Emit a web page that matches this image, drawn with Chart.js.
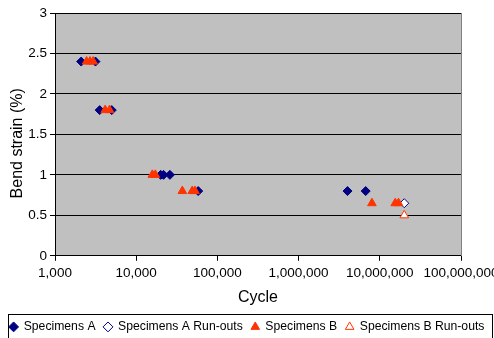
<!DOCTYPE html>
<html>
<head>
<meta charset="utf-8">
<title>Bend strain vs cycle</title>
<script src="https://cdn.jsdelivr.net/npm/chart.js@4/dist/chart.umd.min.js"></script>
<style>
  html, body { margin: 0; padding: 0; background: #fff; }
  canvas { display: block; }
</style>
</head>
<body>
<canvas id="snChart" width="494" height="338"></canvas>
<script>
// cycles to failure (x) and bend strain in % (y)
const specACycles = [2100, 3150, 3550, 5000, 20000, 21700, 26000, 58000, 4000000, 6700000];
const specAStrain = [2.4, 2.4, 1.8, 1.8, 1.0, 1.0, 1.0, 0.8, 0.8, 0.8];

const specARunCycles = [20000000];
const specARunStrain = [0.65];

const specBCycles = [2450, 2700, 2950, 4150, 4700, 15800, 17200, 37000, 49000, 53000, 8000000, 15500000, 17000000];
const specBStrain = [2.4, 2.4, 2.4, 1.8, 1.8, 1.0, 1.0, 0.8, 0.8, 0.8, 0.65, 0.65, 0.65];

const specBRunCycles = [20000000];
const specBRunStrain = [0.5];

const cycleTicks = [1e3, 1e4, 1e5, 1e6, 1e7, 1e8];
const strainTicks = [0, 0.5, 1, 1.5, 2, 2.5, 3];

const NAVY = '#000080';
const RED = '#ff3300';

const toPoints = (xs, ys) => xs.map((x, i) => ({ x: x, y: ys[i] }));

Chart.defaults.font.family = '"Liberation Sans", Arial, sans-serif';
Chart.defaults.color = '#000';

const plotFrame = {
  id: 'plotFrame',
  beforeDraw(chart) {
    const { ctx, chartArea: a } = chart;
    ctx.save();
    ctx.fillStyle = '#c0c0c0';
    ctx.fillRect(a.left, a.top, a.right - a.left, a.bottom - a.top);
    ctx.restore();
  },
  beforeDatasetsDraw(chart) {
    const { ctx, chartArea: a } = chart;
    const x = Math.round(a.right) + 0.5;
    ctx.save();
    ctx.strokeStyle = '#808080';
    ctx.lineWidth = 1;
    ctx.beginPath();
    ctx.moveTo(x, Math.round(a.top));
    ctx.lineTo(x, Math.round(a.bottom));
    ctx.stroke();
    ctx.restore();
  },
  afterLayout(chart) {
    // push the legend row down a little
    chart.legend.top += 5;
    chart.legend.bottom += 5;
  },
  afterDraw(chart) {
    const { ctx } = chart;
    const lg = chart.legend;
    ctx.save();
    ctx.strokeStyle = '#000';
    ctx.lineWidth = 1;
    ctx.strokeRect(8.5, Math.round(lg.top) + 2.5, 484, 40);
    ctx.restore();
  }
};

const ctx = document.getElementById('snChart').getContext('2d');

new Chart(ctx, {
  type: 'scatter',
  data: {
    datasets: [{
      label: 'Specimens A',
      data: toPoints(specACycles, specAStrain),
      pointStyle: 'rectRot',
      pointRadius: 4.5,
      backgroundColor: NAVY,
      borderColor: NAVY,
      borderWidth: 1,
      order: 4
    }, {
      label: 'Specimens A Run-outs',
      data: toPoints(specARunCycles, specARunStrain),
      pointStyle: 'rectRot',
      pointRadius: 4.5,
      backgroundColor: '#fff',
      borderColor: NAVY,
      borderWidth: 1,
      order: 3
    }, {
      label: 'Specimens B',
      data: toPoints(specBCycles, specBStrain),
      pointStyle: 'triangle',
      pointRadius: 5,
      backgroundColor: RED,
      borderColor: RED,
      borderWidth: 1,
      order: 2
    }, {
      label: 'Specimens B Run-outs',
      data: toPoints(specBRunCycles, specBRunStrain),
      pointStyle: 'triangle',
      pointRadius: 5,
      backgroundColor: '#fff',
      borderColor: RED,
      borderWidth: 1,
      order: 1
    }]
  },
  options: {
    responsive: false,
    animation: false,
    layout: { padding: 0 },
    plugins: {
      tooltip: { enabled: false },
      legend: {
        position: 'bottom',
        labels: {
          usePointStyle: true,
          boxWidth: 8,
          boxHeight: 7,
          padding: 8.5,
          font: { size: 12.2 },
          color: '#000',
          sort: (a, b) => a.datasetIndex - b.datasetIndex
        }
      }
    },
    scales: {
      x: {
        type: 'logarithmic',
        min: 1e3,
        max: 1e8,
        afterBuildTicks: (scale) => {
          scale.ticks = cycleTicks.map(v => ({ value: v }));
        },
        afterFit: (scale) => {
          scale.height = 51.5;
          scale.paddingLeft = 0;
          scale.paddingRight = 33;
        },
        ticks: {
          autoSkip: false,
          maxRotation: 0,
          padding: 4,
          font: { size: 13.5 },
          callback: (v) => Number(v).toLocaleString('en-US')
        },
        grid: {
          drawOnChartArea: false,
          drawTicks: true,
          tickLength: 5,
          color: '#000'
        },
        border: { color: '#000', width: 1 },
        title: {
          display: true,
          text: 'Cycle',
          font: { size: 16 },
          padding: { top: 0, bottom: 0 }
        }
      },
      y: {
        min: 0,
        max: 3,
        afterBuildTicks: (scale) => {
          scale.ticks = strainTicks.map(v => ({ value: v }));
        },
        afterFit: (scale) => {
          scale.width = 55;
          scale.paddingTop = 13;
          scale.paddingBottom = 0;
        },
        ticks: {
          padding: 3,
          font: { size: 13.5 },
          callback: (v) => String(v)
        },
        grid: {
          color: '#000',
          tickLength: 5
        },
        border: { color: '#000', width: 1 },
        title: {
          display: true,
          text: 'Bend strain (%)    ',
          font: { size: 16 },
          padding: { top: 8, bottom: 0 }
        }
      }
    }
  },
  plugins: [plotFrame]
});
</script>
</body>
</html>
